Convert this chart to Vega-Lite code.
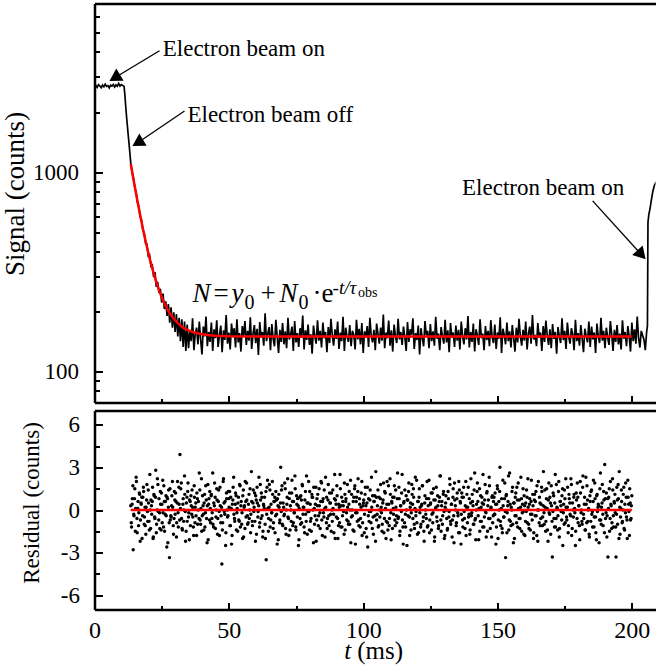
{
"$schema": "https://vega.github.io/schema/vega-lite/v6.json",
"background": "white",
"padding": {"left": 1.5, "top": 3.5, "right": 0, "bottom": 0},
"spacing": 7,
"config": {
  "view": {"stroke": null},
  "font": "Liberation Serif",
  "axis": {"grid": false, "tickColor": "black", "domainColor": "black", "labelColor": "black", "titleColor": "black", "tickWidth": 2, "domainWidth": 2.5, "labelFont": "Liberation Serif", "titleFont": "Liberation Serif", "titleFontWeight": "normal", "labelFlush": false}
},
"vconcat": [
{
  "width": 561, "height": 399,
  "resolve": {"axis": {"x": "independent", "y": "independent"}},
  "encoding": {
    "x": {"field": "t", "type": "quantitative", "scale": {"domain": [0, 208.8], "nice": false, "zero": false}, "axis": null},
    "y": {"field": "s", "type": "quantitative", "scale": {"type": "log", "domain": [70, 7000], "nice": false}, "axis": null}
  },
  "layer": [
    {
      "data": {"values": [
{"t":0,"s":2690},{"t":0.5,"s":2720},{"t":1,"s":2660},{"t":1.5,"s":2745},{"t":2,"s":2700},{"t":2.5,"s":2650},{"t":3,"s":2730},{"t":3.5,"s":2680},{"t":4,"s":2760},{"t":4.5,"s":2690},{"t":5,"s":2715},{"t":5.5,"s":2640},{"t":6,"s":2725},{"t":6.5,"s":2700},{"t":7,"s":2750},{"t":7.5,"s":2670},{"t":8,"s":2735},{"t":8.5,"s":2690},{"t":9,"s":2780},{"t":9.5,"s":2700},{"t":10,"s":2745},{"t":10.5,"s":2720},{"t":11,"s":2690},{"t":11.3,"s":2450},{"t":11.6,"s":2150},{"t":12,"s":1850},{"t":12.5,"s":1560},{"t":13,"s":1320},{"t":13.5,"s":1110},{"t":14,"s":990},{"t":14.5,"s":935},{"t":15,"s":838},{"t":15.5,"s":790},{"t":16,"s":705},{"t":16.5,"s":672},{"t":17,"s":598},{"t":17.5,"s":575},{"t":18,"s":510},{"t":18.5,"s":498},{"t":19,"s":440},{"t":19.5,"s":435},{"t":20,"s":380},{"t":20.5,"s":385},{"t":21,"s":338},{"t":21.5,"s":342},{"t":22,"s":298},{"t":22.5,"s":315},{"t":23,"s":266},{"t":23.5,"s":282},{"t":24,"s":248},{"t":24.5,"s":260},{"t":25,"s":222},{"t":25.5,"s":246},{"t":26,"s":206},{"t":26.5,"s":225},{"t":27,"s":190},{"t":27.5,"s":218},{"t":28,"s":176},{"t":28.5,"s":210},{"t":29,"s":166},{"t":29.5,"s":198},{"t":30,"s":158},{"t":30.5,"s":194},{"t":31,"s":150},{"t":31.5,"s":186},{"t":32,"s":142},{"t":32.5,"s":183},{"t":33,"s":133},{"t":33.5,"s":178},{"t":34,"s":127},
{"t":34.5,"s":172},{"t":35,"s":131},{"t":35.5,"s":160},{"t":36,"s":142},{"t":36.5,"s":185},{"t":37,"s":128},{"t":37.5,"s":155},{"t":38,"s":166},{"t":38.5,"s":137},{"t":39,"s":178},{"t":39.5,"s":145},{"t":40,"s":122},{"t":40.5,"s":168},{"t":41,"s":150},{"t":41.5,"s":189},{"t":42,"s":134},{"t":42.5,"s":158},{"t":43,"s":141},{"t":43.5,"s":176},{"t":44,"s":127},
{"t":44.5,"s":163},{"t":45,"s":147},{"t":45.5,"s":181},{"t":46,"s":133},{"t":46.5,"s":152},{"t":47,"s":170},{"t":47.5,"s":125},{"t":48,"s":161},{"t":48.5,"s":144},{"t":49,"s":192},{"t":49.5,"s":138},{"t":50,"s":157},{"t":50.5,"s":129},{"t":51,"s":174},{"t":51.5,"s":149},{"t":52,"s":165},{"t":52.5,"s":132},{"t":53,"s":183},{"t":53.5,"s":140},{"t":54,"s":156},
{"t":54.5,"s":126},{"t":55,"s":169},{"t":55.5,"s":151},{"t":56,"s":179},{"t":56.5,"s":136},{"t":57,"s":160},{"t":57.5,"s":143},{"t":58,"s":187},{"t":58.5,"s":130},{"t":59,"s":154},{"t":59.5,"s":171},{"t":60,"s":139},{"t":60.5,"s":164},{"t":61,"s":121},{"t":61.5,"s":177},{"t":62,"s":148},{"t":62.5,"s":158},{"t":63,"s":135},{"t":63.5,"s":196},{"t":64,"s":142},
{"t":64.5,"s":155},{"t":65,"s":167},{"t":65.5,"s":128},{"t":66,"s":173},{"t":66.5,"s":146},{"t":67,"s":134},{"t":67.5,"s":182},{"t":68,"s":150},{"t":68.5,"s":124},{"t":69,"s":162},{"t":69.5,"s":141},{"t":70,"s":175},{"t":70.5,"s":137},{"t":71,"s":159},{"t":71.5,"s":131},{"t":72,"s":186},{"t":72.5,"s":145},{"t":73,"s":153},{"t":73.5,"s":168},{"t":74,"s":127},
{"t":74.5,"s":179},{"t":75,"s":140},{"t":75.5,"s":156},{"t":76,"s":133},{"t":76.5,"s":165},{"t":77,"s":148},{"t":77.5,"s":191},{"t":78,"s":129},{"t":78.5,"s":161},{"t":79,"s":144},{"t":79.5,"s":172},{"t":80,"s":136},{"t":80.5,"s":154},{"t":81,"s":123},{"t":81.5,"s":170},{"t":82,"s":150},{"t":82.5,"s":138},{"t":83,"s":181},{"t":83.5,"s":143},{"t":84,"s":160},
{"t":84.5,"s":132},{"t":85,"s":176},{"t":85.5,"s":147},{"t":86,"s":158},{"t":86.5,"s":125},{"t":87,"s":167},{"t":87.5,"s":139},{"t":88,"s":184},{"t":88.5,"s":152},{"t":89,"s":135},{"t":89.5,"s":163},{"t":90,"s":146},{"t":90.5,"s":178},{"t":91,"s":130},{"t":91.5,"s":157},{"t":92,"s":142},{"t":92.5,"s":188},{"t":93,"s":127},{"t":93.5,"s":166},{"t":94,"s":149},
{"t":94.5,"s":141},{"t":95,"s":171},{"t":95.5,"s":134},{"t":96,"s":160},{"t":96.5,"s":153},{"t":97,"s":129},{"t":97.5,"s":182},{"t":98,"s":145},{"t":98.5,"s":164},{"t":99,"s":137},{"t":99.5,"s":175},{"t":100,"s":124},{"t":100.5,"s":159},{"t":101,"s":148},{"t":101.5,"s":169},{"t":102,"s":133},{"t":102.5,"s":186},{"t":103,"s":151},{"t":103.5,"s":140},{"t":104,"s":162},
{"t":104.5,"s":128},{"t":105,"s":174},{"t":105.5,"s":155},{"t":106,"s":138},{"t":106.5,"s":166},{"t":107,"s":143},{"t":107.5,"s":193},{"t":108,"s":131},{"t":108.5,"s":157},{"t":109,"s":147},{"t":109.5,"s":180},{"t":110,"s":135},{"t":110.5,"s":161},{"t":111,"s":126},{"t":111.5,"s":172},{"t":112,"s":150},{"t":112.5,"s":139},{"t":113,"s":184},{"t":113.5,"s":145},{"t":114,"s":158},
{"t":114.5,"s":136},{"t":115,"s":168},{"t":115.5,"s":149},{"t":116,"s":127},{"t":116.5,"s":177},{"t":117,"s":141},{"t":117.5,"s":163},{"t":118,"s":153},{"t":118.5,"s":185},{"t":119,"s":130},{"t":119.5,"s":156},{"t":120,"s":144},{"t":120.5,"s":170},{"t":121,"s":122},{"t":121.5,"s":165},{"t":122,"s":147},{"t":122.5,"s":134},{"t":123,"s":179},{"t":123.5,"s":152},{"t":124,"s":160},
{"t":124.5,"s":131},{"t":125,"s":173},{"t":125.5,"s":142},{"t":126,"s":159},{"t":126.5,"s":135},{"t":127,"s":188},{"t":127.5,"s":146},{"t":128,"s":155},{"t":128.5,"s":128},{"t":129,"s":167},{"t":129.5,"s":150},{"t":130,"s":138},{"t":130.5,"s":182},{"t":131,"s":140},{"t":131.5,"s":161},{"t":132,"s":125},{"t":132.5,"s":175},{"t":133,"s":148},{"t":133.5,"s":157},{"t":134,"s":133},
{"t":134.5,"s":170},{"t":135,"s":143},{"t":135.5,"s":162},{"t":136,"s":129},{"t":136.5,"s":178},{"t":137,"s":151},{"t":137.5,"s":137},{"t":138,"s":165},{"t":138.5,"s":145},{"t":139,"s":190},{"t":139.5,"s":132},{"t":140,"s":158},{"t":140.5,"s":141},{"t":141,"s":174},{"t":141.5,"s":126},{"t":142,"s":163},{"t":142.5,"s":152},{"t":143,"s":136},{"t":143.5,"s":183},{"t":144,"s":147},
{"t":144.5,"s":155},{"t":145,"s":128},{"t":145.5,"s":169},{"t":146,"s":144},{"t":146.5,"s":160},{"t":147,"s":134},{"t":147.5,"s":181},{"t":148,"s":149},{"t":148.5,"s":139},{"t":149,"s":172},{"t":149.5,"s":130},{"t":150,"s":157},{"t":150.5,"s":146},{"t":151,"s":187},{"t":151.5,"s":124},{"t":152,"s":164},{"t":152.5,"s":153},{"t":153,"s":137},{"t":153.5,"s":176},{"t":154,"s":142},
{"t":154.5,"s":159},{"t":155,"s":132},{"t":155.5,"s":171},{"t":156,"s":147},{"t":156.5,"s":126},{"t":157,"s":166},{"t":157.5,"s":140},{"t":158,"s":184},{"t":158.5,"s":150},{"t":159,"s":135},{"t":159.5,"s":162},{"t":160,"s":143},{"t":160.5,"s":178},{"t":161,"s":129},{"t":161.5,"s":155},{"t":162,"s":168},{"t":162.5,"s":138},{"t":163,"s":192},{"t":163.5,"s":145},{"t":164,"s":153},
{"t":164.5,"s":134},{"t":165,"s":175},{"t":165.5,"s":148},{"t":166,"s":157},{"t":166.5,"s":127},{"t":167,"s":169},{"t":167.5,"s":141},{"t":168,"s":180},{"t":168.5,"s":152},{"t":169,"s":136},{"t":169.5,"s":163},{"t":170,"s":131},{"t":170.5,"s":173},{"t":171,"s":146},{"t":171.5,"s":158},{"t":172,"s":123},{"t":172.5,"s":167},{"t":173,"s":150},{"t":173.5,"s":139},{"t":174,"s":185},
{"t":174.5,"s":144},{"t":175,"s":160},{"t":175.5,"s":130},{"t":176,"s":176},{"t":176.5,"s":149},{"t":177,"s":138},{"t":177.5,"s":165},{"t":178,"s":154},{"t":178.5,"s":128},{"t":179,"s":182},{"t":179.5,"s":142},{"t":180,"s":156},{"t":180.5,"s":135},{"t":181,"s":171},{"t":181.5,"s":147},{"t":182,"s":125},{"t":182.5,"s":164},{"t":183,"s":151},{"t":183.5,"s":140},{"t":184,"s":178},
{"t":184.5,"s":133},{"t":185,"s":168},{"t":185.5,"s":145},{"t":186,"s":157},{"t":186.5,"s":124},{"t":187,"s":174},{"t":187.5,"s":150},{"t":188,"s":139},{"t":188.5,"s":186},{"t":189,"s":143},{"t":189.5,"s":160},{"t":190,"s":131},{"t":190.5,"s":166},{"t":191,"s":148},{"t":191.5,"s":136},{"t":192,"s":179},{"t":192.5,"s":153},{"t":193,"s":127},{"t":193.5,"s":162},{"t":194,"s":141},
{"t":194.5,"s":171},{"t":195,"s":137},{"t":195.5,"s":155},{"t":196,"s":129},{"t":196.5,"s":181},{"t":197,"s":146},{"t":197.5,"s":158},{"t":198,"s":134},{"t":198.5,"s":169},{"t":199,"s":150},{"t":199.5,"s":126},{"t":200,"s":176},{"t":200.5,"s":142},{"t":201,"s":163},{"t":201.5,"s":138},{"t":202,"s":189},{"t":202.5,"s":147},{"t":203,"s":132},{"t":203.5,"s":160},{"t":204,"s":152},
{"t":204.5,"s":145},{"t":205,"s":128},{"t":205.5,"s":158},{"t":205.8,"s":170},{"t":206,"s":560},{"t":206.3,"s":610},{"t":206.8,"s":660},{"t":207.3,"s":730},{"t":207.8,"s":800},{"t":208.3,"s":850},{"t":208.8,"s":880},{"t":209.3,"s":900}
      ]},
      "mark": {"type": "line", "color": "black", "strokeWidth": 1.7, "clip": true},
      "encoding": {
        "x": {"field": "t", "type": "quantitative", "scale": {"domain": [0, 208.8], "nice": false, "zero": false},
              "axis": {"orient": "bottom", "values": [0, 50, 100, 150, 200], "tickSize": -7, "labels": false, "title": null, "domain": true}},
        "y": {"field": "s", "type": "quantitative", "scale": {"type": "log", "domain": [70, 7000], "nice": false},
              "axis": {"orient": "left", "values": [100, 1000], "format": "d", "tickSize": -8, "labelPadding": 24, "labelFontSize": 23, "title": "Signal (counts)", "titleFontSize": 27, "titlePadding": 3, "titleY": 190, "domain": true}}
      }
    },
    {
      "data": {"values": [
{"t":13.5,"s":1100},{"t":14,"s":1006},{"t":14.5,"s":921},{"t":15,"s":845},{"t":15.5,"s":776},{"t":16,"s":714},{"t":16.5,"s":659},{"t":17,"s":608},{"t":17.5,"s":563},{"t":18,"s":522},{"t":18.5,"s":485},{"t":19,"s":452},{"t":19.5,"s":422},{"t":20,"s":395},{"t":20.5,"s":371},{"t":21,"s":349},{"t":21.5,"s":330},{"t":22,"s":312},{"t":22.5,"s":296},{"t":23,"s":281},{"t":23.5,"s":268},{"t":24,"s":257},{"t":24.5,"s":246},{"t":25,"s":237},{"t":25.5,"s":228},{"t":26,"s":220},{"t":26.5,"s":213},{"t":27,"s":207},{"t":27.5,"s":201},{"t":28,"s":196},{"t":28.5,"s":192},{"t":29,"s":188},{"t":29.5,"s":184},{"t":30,"s":181},{"t":31,"s":175},{"t":32,"s":170},{"t":33,"s":166},{"t":34,"s":163},{"t":35,"s":161},{"t":36,"s":159},{"t":37,"s":157},{"t":38,"s":156},{"t":40,"s":154},{"t":42,"s":152.5},{"t":45,"s":151.4},{"t":50,"s":150.5},{"t":60,"s":150},{"t":200,"s":150}
      ]},
      "mark": {"type": "line", "color": "#ff0000", "strokeWidth": 2.5},
      "encoding": {
        "x": {"field": "t", "type": "quantitative", "scale": {"domain": [0, 208.8], "nice": false, "zero": false},
              "axis": {"orient": "bottom", "values": [25, 75, 125, 175], "tickSize": -4, "labels": false, "title": null, "domain": false}},
        "y": {"field": "s", "type": "quantitative", "scale": {"type": "log", "domain": [70, 7000], "nice": false},
              "axis": {"orient": "left", "values": [80, 90, 200, 300, 400, 500, 600, 700, 800, 900, 2000, 3000, 4000, 5000, 6000], "tickSize": -5, "labels": false, "title": null, "domain": false}}
      }
    },
    {
      "data": {"values": [
{"t":24.2,"s":4055,"t2":7.52,"s2":2971},{"t":33.5,"s":2025,"t2":16.08,"s2":1402},{"t":185.4,"s":717,"t2":203.6,"s2":385}
      ]},
      "mark": {"type": "rule", "color": "black", "strokeWidth": 1.3},
      "encoding": {
        "x": {"field": "t", "type": "quantitative", "scale": {"domain": [0, 208.8], "nice": false, "zero": false},
              "axis": {"orient": "top", "ticks": false, "labels": false, "title": null, "domain": true}},
        "x2": {"field": "t2"},
        "y2": {"field": "s2"}
      }
    },
    {
      "data": {"values": [{"t":7.52,"s":2971},{"t":16.08,"s":1402}]},
      "mark": {"type": "point", "shape": "triangle-up", "filled": true, "size": 200, "angle": 239, "color": "black", "opacity": 1}
    },
    {
      "data": {"values": [{"t":203.6,"s":385}]},
      "mark": {"type": "point", "shape": "triangle-up", "filled": true, "size": 200, "angle": 138, "color": "black", "opacity": 1}
    },
    {
      "data": {"values": [
{"t":25.4,"s":3841,"txt":"Electron beam on"},{"t":34.6,"s":1790,"txt":"Electron beam off"},{"t":136.8,"s":766,"txt":"Electron beam on"}
      ]},
      "mark": {"type": "text", "align": "left", "baseline": "alphabetic", "fontSize": 23, "font": "Liberation Serif", "color": "black"},
      "encoding": {"text": {"field": "txt"}}
    },
    {
      "data": {"values": [{"t":36.5,"s":222,"txt":"N"},{"t":51.0,"s":222,"txt":"y"},{"t":68.9,"s":222,"txt":"N"}]},
      "mark": {"type": "text", "align": "left", "baseline": "alphabetic", "fontSize": 27, "fontStyle": "italic", "font": "Liberation Serif", "color": "black"},
      "encoding": {"text": {"field": "txt"}}
    },
    {
      "data": {"values": [{"t":44.3,"s":222,"txt":"="},{"t":61.8,"s":222,"txt":"+"},{"t":81.1,"s":222,"txt":"·e"}]},
      "mark": {"type": "text", "align": "left", "baseline": "alphabetic", "fontSize": 27, "font": "Liberation Serif", "color": "black"},
      "encoding": {"text": {"field": "txt"}}
    },
    {
      "data": {"values": [{"t":55.8,"s":207,"txt":"0"},{"t":75.9,"s":207,"txt":"0"}]},
      "mark": {"type": "text", "align": "left", "baseline": "alphabetic", "fontSize": 20, "font": "Liberation Serif", "color": "black"},
      "encoding": {"text": {"field": "txt"}}
    },
    {
      "data": {"values": [{"t":88.6,"s":246,"txt":"-t/τ"}]},
      "mark": {"type": "text", "align": "left", "baseline": "alphabetic", "fontSize": 19, "fontStyle": "italic", "font": "Liberation Serif", "color": "black"},
      "encoding": {"text": {"field": "txt"}}
    },
    {
      "data": {"values": [{"t":98.1,"s":235.6,"txt":"obs"}]},
      "mark": {"type": "text", "align": "left", "baseline": "alphabetic", "fontSize": 14, "font": "Liberation Serif", "color": "black"},
      "encoding": {"text": {"field": "txt"}}
    }
  ]
},
{
  "width": 561, "height": 199,
  "resolve": {"axis": {"x": "independent", "y": "independent"}},
  "encoding": {
    "x": {"field": "t", "type": "quantitative", "scale": {"domain": [0, 208.8], "nice": false, "zero": false}, "axis": null},
    "y": {"field": "r", "type": "quantitative", "scale": {"domain": [-7, 7], "nice": false, "zero": false}, "axis": null}
  },
  "layer": [
    {
      "data": {"values": [
{"t":13.5,"r":0.3},{"t":13.8,"r":-1.2},{"t":14.1,"r":0.8},{"t":14.4,"r":-2.8},{"t":14.7,"r":-0.4},{"t":15,"r":1.5},{"t":15.3,"r":0.1},{"t":15.6,"r":2.0},{"t":15.9,"r":-1.6},{"t":16.2,"r":0.6},
{"t":16.5,"r":-0.2},{"t":16.8,"r":1.1},{"t":17.1,"r":-0.7},{"t":17.4,"r":0.4},{"t":17.7,"r":-2.0},{"t":18,"r":0.9},{"t":18.3,"r":1.3},{"t":18.6,"r":-0.5},{"t":18.9,"r":-1.1},{"t":19.2,"r":0.2},
{"t":19.5,"r":1.8},{"t":19.8,"r":-0.8},{"t":20.1,"r":0.5},{"t":20.4,"r":-1.4},{"t":20.7,"r":0.0},{"t":21,"r":0.7},{"t":21.3,"r":-0.3},{"t":21.6,"r":1.6},{"t":21.9,"r":-1.9},{"t":22.2,"r":1.0},
{"t":22.5,"r":-0.6},{"t":22.8,"r":2.8},{"t":23.1,"r":-1.0},{"t":23.4,"r":2.2},{"t":23.7,"r":-0.1},{"t":24,"r":0.8},{"t":24.3,"r":-1.3},{"t":24.6,"r":0.4},{"t":24.9,"r":1.2},{"t":25.2,"r":-0.9},
{"t":25.5,"r":-0.2},{"t":25.8,"r":1.7},{"t":26.1,"r":-1.5},{"t":26.4,"r":0.6},{"t":26.7,"r":-0.4},{"t":27,"r":0.9},{"t":27.3,"r":-2.3},{"t":27.6,"r":1.4},{"t":27.9,"r":-3.35},{"t":28.2,"r":-0.7},
{"t":28.5,"r":-0.5},{"t":28.8,"r":1.0},{"t":29.1,"r":0.2},{"t":29.4,"r":-1.7},{"t":29.7,"r":1.3},{"t":30,"r":-0.3},{"t":30.3,"r":0.6},{"t":30.6,"r":-0.9},{"t":30.9,"r":2.0},{"t":31.2,"r":-1.2},
{"t":31.5,"r":0.4},{"t":31.8,"r":3.9},{"t":32.1,"r":1.5},{"t":32.4,"r":-0.6},{"t":32.7,"r":-1.4},{"t":33,"r":0.8},{"t":33.3,"r":0.0},{"t":33.6,"r":1.1},{"t":33.9,"r":-2.2},{"t":34.2,"r":0.5},
{"t":34.5,"r":-0.8},{"t":34.8,"r":1.9},{"t":35.1,"r":-0.2},{"t":35.4,"r":0.7},{"t":35.7,"r":-1.1},{"t":36,"r":0.3},{"t":36.3,"r":1.4},{"t":36.6,"r":-0.5},{"t":36.9,"r":-1.8},{"t":37.2,"r":0.9},
{"t":37.5,"r":0.2},{"t":37.8,"r":-0.4},{"t":38.1,"r":1.2},{"t":38.4,"r":-1.0},{"t":38.7,"r":0.6},{"t":39,"r":2.6},{"t":39.3,"r":-0.7},{"t":39.6,"r":0.1},{"t":39.9,"r":-1.5},{"t":40.2,"r":1.0},
{"t":40.5,"r":-0.3},{"t":40.8,"r":0.5},{"t":41.1,"r":-1.2},{"t":41.4,"r":1.7},{"t":41.7,"r":-0.6},{"t":42,"r":0.3},{"t":42.3,"r":-2.1},{"t":42.6,"r":0.8},{"t":42.9,"r":1.3},{"t":43.2,"r":-0.9},
{"t":43.5,"r":1.1},{"t":43.8,"r":-0.2},{"t":44.1,"r":-1.0},{"t":44.4,"r":0.5},{"t":44.7,"r":1.9},{"t":45,"r":-1.3},{"t":45.3,"r":0.0},{"t":45.6,"r":0.7},{"t":45.9,"r":-0.6},{"t":46.2,"r":1.4},
{"t":46.5,"r":-1.8},{"t":46.8,"r":0.3},{"t":47.1,"r":-0.4},{"t":47.4,"r":-3.8},{"t":47.7,"r":-0.9},{"t":48,"r":2.2},{"t":48.3,"r":-0.1},{"t":48.6,"r":0.6},{"t":48.9,"r":-1.6},{"t":49.2,"r":0.8},
{"t":49.5,"r":-0.5},{"t":49.8,"r":1.3},{"t":50.1,"r":0.2},{"t":50.4,"r":-1.1},{"t":50.7,"r":0.9},{"t":51,"r":-2.4},{"t":51.3,"r":0.4},{"t":51.6,"r":1.6},{"t":51.9,"r":-0.3},{"t":52.2,"r":-0.8},
{"t":52.5,"r":1.2},{"t":52.8,"r":-1.4},{"t":53.1,"r":0.1},{"t":53.4,"r":0.5},{"t":53.7,"r":-0.7},{"t":54,"r":1.8},{"t":54.3,"r":-1.2},{"t":54.6,"r":0.6},{"t":54.9,"r":-0.2},{"t":55.2,"r":1.0},
{"t":55.5,"r":-1.9},{"t":55.8,"r":0.3},{"t":56.1,"r":2.0},{"t":56.4,"r":-0.5},{"t":56.7,"r":0.7},{"t":57,"r":-1.0},{"t":57.3,"r":0.4},{"t":57.6,"r":-0.6},{"t":57.9,"r":1.5},{"t":58.2,"r":-0.3},
{"t":58.5,"r":0.6},{"t":58.8,"r":-1.1},{"t":59.1,"r":1.4},{"t":59.4,"r":0.2},{"t":59.7,"r":-0.8},{"t":60,"r":1.0},{"t":60.3,"r":-1.7},{"t":60.6,"r":0.5},{"t":60.9,"r":-0.1},{"t":61.2,"r":2.3},
{"t":61.5,"r":-0.9},{"t":61.8,"r":0.7},{"t":62.1,"r":1.2},{"t":62.4,"r":-0.4},{"t":62.7,"r":-1.5},{"t":63,"r":0.3},{"t":63.3,"r":0.9},{"t":63.6,"r":-2.0},{"t":63.9,"r":-3.5},{"t":64.2,"r":1.6},
{"t":64.5,"r":0.1},{"t":64.8,"r":-0.6},{"t":65.1,"r":1.8},{"t":65.4,"r":-1.2},{"t":65.7,"r":0.4},{"t":66,"r":-0.2},{"t":66.3,"r":1.1},{"t":66.6,"r":-0.9},{"t":66.9,"r":0.6},{"t":67.2,"r":-1.6},
{"t":67.5,"r":1.3},{"t":67.8,"r":-0.3},{"t":68.1,"r":0.8},{"t":68.4,"r":-2.1},{"t":68.7,"r":0.2},{"t":69,"r":-0.7},{"t":69.3,"r":3.0},{"t":69.6,"r":1.4},{"t":69.9,"r":-1.0},{"t":70.2,"r":0.5},
{"t":70.5,"r":-0.4},{"t":70.8,"r":1.9},{"t":71.1,"r":-1.3},{"t":71.4,"r":0.0},{"t":71.7,"r":0.9},{"t":72,"r":-0.5},{"t":72.3,"r":-1.8},{"t":72.6,"r":1.2},{"t":72.9,"r":0.3},{"t":73.2,"r":-0.8},
{"t":73.5,"r":2.1},{"t":73.8,"r":-1.1},{"t":74.1,"r":0.6},{"t":74.4,"r":-0.2},{"t":74.7,"r":1.5},{"t":75,"r":-1.4},{"t":75.3,"r":0.4},{"t":75.6,"r":0.8},{"t":75.9,"r":-2.5},{"t":76.2,"r":0.1},
{"t":76.5,"r":-0.6},{"t":76.8,"r":1.0},{"t":77.1,"r":-0.9},{"t":77.4,"r":1.7},{"t":77.7,"r":0.2},{"t":78,"r":-1.2},{"t":78.3,"r":0.7},{"t":78.6,"r":-0.3},{"t":78.9,"r":2.4},{"t":79.2,"r":-1.7},
{"t":79.5,"r":0.5},{"t":79.8,"r":-0.1},{"t":80.1,"r":1.3},{"t":80.4,"r":-0.8},{"t":80.7,"r":-1.5},{"t":81,"r":0.9},{"t":81.3,"r":0.0},{"t":81.6,"r":1.6},{"t":81.9,"r":-1.0},{"t":82.2,"r":0.4},
{"t":82.5,"r":-2.2},{"t":82.8,"r":0.8},{"t":83.1,"r":1.1},{"t":83.4,"r":-0.4},{"t":83.7,"r":0.3},{"t":84,"r":-1.3},{"t":84.3,"r":2.0},{"t":84.6,"r":-0.7},{"t":84.9,"r":0.6},{"t":85.2,"r":-0.2},
{"t":85.5,"r":1.4},{"t":85.8,"r":-1.9},{"t":86.1,"r":0.2},{"t":86.4,"r":0.9},{"t":86.7,"r":-0.6},{"t":87,"r":1.8},{"t":87.3,"r":-1.1},{"t":87.6,"r":0.5},{"t":87.9,"r":-0.3},{"t":88.2,"r":1.2},
{"t":88.5,"r":-0.8},{"t":88.8,"r":0.1},{"t":89.1,"r":-1.6},{"t":89.4,"r":2.5},{"t":89.7,"r":0.7},{"t":90,"r":-0.5},{"t":90.3,"r":1.0},{"t":90.6,"r":-2.0},{"t":90.9,"r":0.4},{"t":91.2,"r":-0.9},
{"t":91.5,"r":1.5},{"t":91.8,"r":0.3},{"t":92.1,"r":-1.2},{"t":92.4,"r":0.6},{"t":92.7,"r":-0.1},{"t":93,"r":1.9},{"t":93.3,"r":-1.4},{"t":93.6,"r":0.8},{"t":93.9,"r":-0.7},{"t":94.2,"r":0.2},
{"t":94.5,"r":-1.0},{"t":94.8,"r":1.3},{"t":95.1,"r":0.0},{"t":95.4,"r":-2.3},{"t":95.7,"r":1.1},{"t":96,"r":-0.4},{"t":96.3,"r":0.6},{"t":96.6,"r":-1.5},{"t":96.9,"r":1.7},{"t":97.2,"r":-0.2},
{"t":97.5,"r":0.9},{"t":97.8,"r":-0.8},{"t":98.1,"r":2.2},{"t":98.4,"r":-1.1},{"t":98.7,"r":0.4},{"t":99,"r":-0.6},{"t":99.3,"r":1.2},{"t":99.6,"r":-1.8},{"t":99.9,"r":0.3},{"t":100.2,"r":0.7},
{"t":100.5,"r":-0.3},{"t":100.8,"r":1.6},{"t":101.1,"r":-1.3},{"t":101.4,"r":0.5},{"t":101.7,"r":-2.6},{"t":102,"r":0.8},{"t":102.3,"r":-0.1},{"t":102.6,"r":1.4},{"t":102.9,"r":-0.9},{"t":103.2,"r":0.2},
{"t":103.5,"r":1.0},{"t":103.8,"r":-1.7},{"t":104.1,"r":0.6},{"t":104.4,"r":-0.4},{"t":104.7,"r":2.7},{"t":105,"r":-0.7},{"t":105.3,"r":0.3},{"t":105.6,"r":-1.2},{"t":105.9,"r":0.9},{"t":106.2,"r":-0.5},
{"t":106.5,"r":1.8},{"t":106.8,"r":-0.2},{"t":107.1,"r":-1.0},{"t":107.4,"r":0.7},{"t":107.7,"r":-1.6},{"t":108,"r":1.3},{"t":108.3,"r":0.1},{"t":108.6,"r":-0.8},{"t":108.9,"r":2.0},{"t":109.2,"r":-1.4},
{"t":109.5,"r":0.4},{"t":109.8,"r":-0.6},{"t":110.1,"r":1.1},{"t":110.4,"r":-2.1},{"t":110.7,"r":0.5},{"t":111,"r":0.9},{"t":111.3,"r":-0.3},{"t":111.6,"r":1.7},{"t":111.9,"r":-1.1},{"t":112.2,"r":0.2},
{"t":112.5,"r":-0.9},{"t":112.8,"r":2.6},{"t":113.1,"r":-0.5},{"t":113.4,"r":0.8},{"t":113.7,"r":-1.5},{"t":114,"r":0.3},{"t":114.3,"r":1.2},{"t":114.6,"r":-0.7},{"t":114.9,"r":-2.4},{"t":115.2,"r":0.6},
{"t":115.5,"r":1.4},{"t":115.8,"r":-1.2},{"t":116.1,"r":0.0},{"t":116.4,"r":0.7},{"t":116.7,"r":-0.4},{"t":117,"r":1.9},{"t":117.3,"r":-1.8},{"t":117.6,"r":0.5},{"t":117.9,"r":-0.2},{"t":118.2,"r":1.1},
{"t":118.5,"r":-0.6},{"t":118.8,"r":0.9},{"t":119.1,"r":-1.3},{"t":119.4,"r":2.3},{"t":119.7,"r":-0.1},{"t":120,"r":-0.9},{"t":120.3,"r":0.6},{"t":120.6,"r":-1.6},{"t":120.9,"r":1.5},{"t":121.2,"r":0.2},
{"t":121.5,"r":-1.0},{"t":121.8,"r":0.4},{"t":122.1,"r":1.7},{"t":122.4,"r":-0.5},{"t":122.7,"r":-2.2},{"t":123,"r":1.0},{"t":123.3,"r":-0.3},{"t":123.6,"r":0.8},{"t":123.9,"r":-1.2},{"t":124.2,"r":0.3},
{"t":124.5,"r":2.1},{"t":124.8,"r":-0.7},{"t":125.1,"r":0.5},{"t":125.4,"r":-1.4},{"t":125.7,"r":1.2},{"t":126,"r":-0.2},{"t":126.3,"r":0.7},{"t":126.6,"r":-1.9},{"t":126.9,"r":0.1},{"t":127.2,"r":1.6},
{"t":127.5,"r":-0.8},{"t":127.8,"r":0.3},{"t":128.1,"r":-1.1},{"t":128.4,"r":0.9},{"t":128.7,"r":2.4},{"t":129,"r":-1.5},{"t":129.3,"r":0.6},{"t":129.6,"r":-0.4},{"t":129.9,"r":1.3},{"t":130.2,"r":-2.0},
{"t":130.5,"r":0.2},{"t":130.8,"r":1.0},{"t":131.1,"r":-0.6},{"t":131.4,"r":-1.3},{"t":131.7,"r":0.8},{"t":132,"r":-0.1},{"t":132.3,"r":1.8},{"t":132.6,"r":-1.0},{"t":132.9,"r":0.4},{"t":133.2,"r":-0.7},
{"t":133.5,"r":1.5},{"t":133.8,"r":-2.3},{"t":134.1,"r":0.7},{"t":134.4,"r":0.0},{"t":134.7,"r":-0.9},{"t":135,"r":1.2},{"t":135.3,"r":-0.4},{"t":135.6,"r":2.0},{"t":135.9,"r":-1.6},{"t":136.2,"r":0.5},
{"t":136.5,"r":-0.3},{"t":136.8,"r":0.9},{"t":137.1,"r":-1.2},{"t":137.4,"r":1.6},{"t":137.7,"r":-0.6},{"t":138,"r":0.3},{"t":138.3,"r":-1.8},{"t":138.6,"r":1.1},{"t":138.9,"r":0.2},{"t":139.2,"r":-0.5},
{"t":139.5,"r":0.8},{"t":139.8,"r":-1.4},{"t":140.1,"r":2.2},{"t":140.4,"r":-0.2},{"t":140.7,"r":0.6},{"t":141,"r":-1.0},{"t":141.3,"r":1.4},{"t":141.6,"r":-0.7},{"t":141.9,"r":-2.1},{"t":142.2,"r":0.4},
{"t":142.5,"r":1.9},{"t":142.8,"r":-0.4},{"t":143.1,"r":0.1},{"t":143.4,"r":-1.5},{"t":143.7,"r":1.0},{"t":144,"r":-0.8},{"t":144.3,"r":0.5},{"t":144.6,"r":2.5},{"t":144.9,"r":-1.2},{"t":145.2,"r":0.7},
{"t":145.5,"r":-0.1},{"t":145.8,"r":-1.9},{"t":146.1,"r":1.3},{"t":146.4,"r":0.3},{"t":146.7,"r":-0.6},{"t":147,"r":1.7},{"t":147.3,"r":-1.3},{"t":147.6,"r":0.2},{"t":147.9,"r":0.9},{"t":148.2,"r":-0.9},
{"t":148.5,"r":0.6},{"t":148.8,"r":-0.3},{"t":149.1,"r":1.2},{"t":149.4,"r":-2.4},{"t":149.7,"r":0.4},{"t":150,"r":1.5},{"t":150.3,"r":-0.7},{"t":150.6,"r":0.0},{"t":150.9,"r":3.0},{"t":151.2,"r":-1.1},
{"t":151.5,"r":0.8},{"t":151.8,"r":-1.6},{"t":152.1,"r":0.3},{"t":152.4,"r":-0.5},{"t":152.7,"r":1.9},{"t":153,"r":-3.35},{"t":153.3,"r":1.1},{"t":153.6,"r":-0.2},{"t":153.9,"r":0.6},{"t":154.2,"r":-1.4},
{"t":154.5,"r":2.6},{"t":154.8,"r":-0.8},{"t":155.1,"r":0.2},{"t":155.4,"r":1.3},{"t":155.7,"r":-1.0},{"t":156,"r":0.5},{"t":156.3,"r":-2.0},{"t":156.6,"r":0.9},{"t":156.9,"r":-0.4},{"t":157.2,"r":1.6},
{"t":157.5,"r":-1.2},{"t":157.8,"r":0.1},{"t":158.1,"r":0.7},{"t":158.4,"r":-0.6},{"t":158.7,"r":2.3},{"t":159,"r":-1.5},{"t":159.3,"r":0.4},{"t":159.6,"r":-0.1},{"t":159.9,"r":1.0},{"t":160.2,"r":-1.8},
{"t":160.5,"r":0.5},{"t":160.8,"r":1.4},{"t":161.1,"r":-0.9},{"t":161.4,"r":0.2},{"t":161.7,"r":-1.3},{"t":162,"r":0.8},{"t":162.3,"r":-0.3},{"t":162.6,"r":2.1},{"t":162.9,"r":-0.7},{"t":163.2,"r":0.3},
{"t":163.5,"r":-1.6},{"t":163.8,"r":1.1},{"t":164.1,"r":0.6},{"t":164.4,"r":-0.4},{"t":164.7,"r":1.7},{"t":165,"r":-2.2},{"t":165.3,"r":0.0},{"t":165.6,"r":0.9},{"t":165.9,"r":-1.1},{"t":166.2,"r":0.4},
{"t":166.5,"r":1.3},{"t":166.8,"r":-0.5},{"t":167.1,"r":2.7},{"t":167.4,"r":-1.0},{"t":167.7,"r":0.2},{"t":168,"r":-0.8},{"t":168.3,"r":1.5},{"t":168.6,"r":-1.4},{"t":168.9,"r":0.7},{"t":169.2,"r":-0.2},
{"t":169.5,"r":0.9},{"t":169.8,"r":-1.7},{"t":170.1,"r":0.3},{"t":170.4,"r":-3.3},{"t":170.7,"r":1.2},{"t":171,"r":-0.6},{"t":171.3,"r":0.5},{"t":171.6,"r":-1.2},{"t":171.9,"r":1.8},{"t":172.2,"r":0.1},
{"t":172.5,"r":-0.4},{"t":172.8,"r":2.0},{"t":173.1,"r":-1.3},{"t":173.4,"r":0.6},{"t":173.7,"r":-0.1},{"t":174,"r":1.0},{"t":174.3,"r":-2.5},{"t":174.6,"r":0.4},{"t":174.9,"r":1.4},{"t":175.2,"r":-0.9},
{"t":175.5,"r":0.2},{"t":175.8,"r":-0.7},{"t":176.1,"r":1.6},{"t":176.4,"r":-1.1},{"t":176.7,"r":0.8},{"t":177,"r":-0.3},{"t":177.3,"r":2.2},{"t":177.6,"r":-1.8},{"t":177.9,"r":0.5},{"t":178.2,"r":-0.5},
{"t":178.5,"r":1.1},{"t":178.8,"r":-0.2},{"t":179.1,"r":-1.5},{"t":179.4,"r":0.7},{"t":179.7,"r":1.9},{"t":180,"r":-0.9},{"t":180.3,"r":0.3},{"t":180.6,"r":-2.1},{"t":180.9,"r":1.2},{"t":181.2,"r":0.0},
{"t":181.5,"r":-1.0},{"t":181.8,"r":2.4},{"t":182.1,"r":-0.6},{"t":182.4,"r":0.9},{"t":182.7,"r":-1.4},{"t":183,"r":0.4},{"t":183.3,"r":1.7},{"t":183.6,"r":-0.8},{"t":183.9,"r":0.1},{"t":184.2,"r":-1.9},
{"t":184.5,"r":0.6},{"t":184.8,"r":1.3},{"t":185.1,"r":-0.3},{"t":185.4,"r":-1.2},{"t":185.7,"r":2.1},{"t":186,"r":-0.5},{"t":186.3,"r":0.8},{"t":186.6,"r":-1.6},{"t":186.9,"r":1.0},{"t":187.2,"r":-0.1},
{"t":187.5,"r":0.4},{"t":187.8,"r":-2.3},{"t":188.1,"r":1.5},{"t":188.4,"r":-0.7},{"t":188.7,"r":0.2},{"t":189,"r":1.8},{"t":189.3,"r":-1.1},{"t":189.6,"r":0.7},{"t":189.9,"r":3.2},{"t":190.2,"r":-0.6},
{"t":190.5,"r":1.2},{"t":190.8,"r":-0.4},{"t":191.1,"r":-3.3},{"t":191.4,"r":0.9},{"t":191.7,"r":-1.5},{"t":192,"r":2.0},{"t":192.3,"r":0.3},{"t":192.6,"r":-0.9},{"t":192.9,"r":1.4},{"t":193.2,"r":-1.2},
{"t":193.5,"r":0.5},{"t":193.8,"r":-0.2},{"t":194.1,"r":-3.3},{"t":194.4,"r":1.6},{"t":194.7,"r":-1.0},{"t":195,"r":0.8},{"t":195.3,"r":2.7},{"t":195.6,"r":-1.7},{"t":195.9,"r":0.1},{"t":196.2,"r":0.6},
{"t":196.5,"r":-0.8},{"t":196.8,"r":1.1},{"t":197.1,"r":-1.3},{"t":197.4,"r":0.4},{"t":197.7,"r":1.9},{"t":198,"r":-0.5},{"t":198.3,"r":-2.0},{"t":198.6,"r":0.9},{"t":198.9,"r":-0.1},{"t":199.2,"r":1.5},
{"t":199.5,"r":-0.7},{"t":199.8,"r":0.3},
{"t":13.7,"r":-0.9},{"t":14,"r":0.4},{"t":14.3,"r":1.7},{"t":14.6,"r":-0.3},{"t":14.9,"r":0.8},{"t":15.2,"r":-1.5},{"t":15.5,"r":2.3},{"t":15.8,"r":-0.6},{"t":16.1,"r":0.1},{"t":16.4,"r":-1.1},
{"t":16.7,"r":1.2},{"t":17,"r":-2.2},{"t":17.3,"r":0.5},{"t":17.6,"r":0.9},{"t":17.9,"r":-0.4},{"t":18.2,"r":1.6},{"t":18.5,"r":-1.0},{"t":18.8,"r":0.2},{"t":19.1,"r":-1.7},{"t":19.4,"r":0.7},
{"t":19.7,"r":-0.1},{"t":20,"r":1.4},{"t":20.3,"r":-0.8},{"t":20.6,"r":2.5},{"t":20.9,"r":-1.3},{"t":21.2,"r":0.3},{"t":21.5,"r":0.6},{"t":21.8,"r":-2.0},{"t":22.1,"r":1.1},{"t":22.4,"r":-0.5},
{"t":22.7,"r":0.9},{"t":23,"r":-1.6},{"t":23.3,"r":0.0},{"t":23.6,"r":1.8},{"t":23.9,"r":-0.7},{"t":24.2,"r":-0.2},{"t":24.5,"r":1.3},{"t":24.8,"r":-1.4},{"t":25.1,"r":0.4},{"t":25.4,"r":2.1},
{"t":25.7,"r":-1.2},{"t":26,"r":0.6},{"t":26.3,"r":-0.3},{"t":26.6,"r":1.0},{"t":26.9,"r":-2.6},{"t":27.2,"r":0.8},{"t":27.5,"r":0.2},{"t":27.8,"r":-0.9},{"t":28.1,"r":1.5},{"t":28.4,"r":-0.4},
{"t":28.7,"r":0.3},{"t":29,"r":2.0},{"t":29.3,"r":-1.1},{"t":29.6,"r":-0.6},{"t":29.9,"r":0.7},{"t":30.2,"r":1.2},{"t":30.5,"r":-1.9},{"t":30.8,"r":0.5},{"t":31.1,"r":-0.2},{"t":31.4,"r":1.6},
{"t":31.7,"r":-0.7},{"t":32,"r":0.1},{"t":32.3,"r":1.9},{"t":32.6,"r":-1.3},{"t":32.9,"r":0.4},{"t":33.2,"r":-0.8},{"t":33.5,"r":2.4},{"t":33.8,"r":-0.1},{"t":34.1,"r":-1.5},{"t":34.4,"r":0.9},
{"t":34.7,"r":1.3},{"t":35,"r":-0.5},{"t":35.3,"r":-2.1},{"t":35.6,"r":0.6},{"t":35.9,"r":1.0},{"t":36.2,"r":-0.3},{"t":36.5,"r":0.2},{"t":36.8,"r":-1.2},{"t":37.1,"r":1.7},{"t":37.4,"r":-0.9},
{"t":37.7,"r":0.5},{"t":38,"r":-1.8},{"t":38.3,"r":0.8},{"t":38.6,"r":0.0},{"t":38.9,"r":-0.6},{"t":39.2,"r":1.4},{"t":39.5,"r":-1.0},{"t":39.8,"r":2.2},{"t":40.1,"r":-0.4},{"t":40.4,"r":0.3},
{"t":40.7,"r":-1.4},{"t":41,"r":1.1},{"t":41.3,"r":-0.2},{"t":41.6,"r":0.7},{"t":41.9,"r":-2.3},{"t":42.2,"r":1.8},{"t":42.5,"r":0.4},{"t":42.8,"r":-0.7},{"t":43.1,"r":0.1},{"t":43.4,"r":1.0},
{"t":43.7,"r":-0.6},{"t":44,"r":2.6},{"t":44.3,"r":-1.2},{"t":44.6,"r":0.3},{"t":44.9,"r":0.9},{"t":45.2,"r":-0.5},{"t":45.5,"r":1.5},{"t":45.8,"r":-1.7},{"t":46.1,"r":0.6},{"t":46.4,"r":-0.1},
{"t":46.7,"r":1.6},{"t":47,"r":-0.9},{"t":47.3,"r":0.2},{"t":47.6,"r":-1.4},{"t":47.9,"r":2.0},{"t":48.2,"r":0.5},{"t":48.5,"r":-0.3},{"t":48.8,"r":-2.5},{"t":49.1,"r":1.2},{"t":49.4,"r":0.0},
{"t":49.7,"r":-0.4},{"t":50,"r":0.8},{"t":50.3,"r":1.3},{"t":50.6,"r":-1.1},{"t":50.9,"r":0.1},{"t":51.2,"r":-1.8},{"t":51.5,"r":0.7},{"t":51.8,"r":2.3},{"t":52.1,"r":-0.6},{"t":52.4,"r":0.4},
{"t":52.7,"r":1.0},{"t":53,"r":-0.2},{"t":53.3,"r":-1.5},{"t":53.6,"r":0.9},{"t":53.9,"r":-0.8},{"t":54.2,"r":1.7},{"t":54.5,"r":0.3},{"t":54.8,"r":-1.0},{"t":55.1,"r":-2.0},{"t":55.4,"r":1.4},
{"t":55.7,"r":0.2},{"t":56,"r":-1.3},{"t":56.3,"r":0.6},{"t":56.6,"r":1.9},{"t":56.9,"r":-0.4},{"t":57.2,"r":-0.9},{"t":57.5,"r":1.1},{"t":57.8,"r":0.0},{"t":58.1,"r":-1.6},{"t":58.4,"r":2.7},
{"t":58.7,"r":-0.8},{"t":59,"r":0.5},{"t":59.3,"r":-0.1},{"t":59.6,"r":1.2},{"t":59.9,"r":-2.2},{"t":60.2,"r":0.7},{"t":60.5,"r":1.6},{"t":60.8,"r":-0.5},{"t":61.1,"r":0.3},{"t":61.4,"r":-1.2},
{"t":61.7,"r":1.8},{"t":62,"r":-0.6},{"t":62.3,"r":0.9},{"t":62.6,"r":-1.9},{"t":62.9,"r":0.4},{"t":63.2,"r":0.1},{"t":63.5,"r":-1.0},{"t":63.8,"r":1.3},{"t":64.1,"r":-0.3},{"t":64.4,"r":2.1},
{"t":64.7,"r":-1.5},{"t":65,"r":0.2},{"t":65.3,"r":1.4},{"t":65.6,"r":-0.7},{"t":65.9,"r":-0.2},{"t":66.2,"r":2.0},{"t":66.5,"r":-1.3},{"t":66.8,"r":0.6},{"t":67.1,"r":0.9},{"t":67.4,"r":-0.4},
{"t":67.7,"r":0.7},{"t":68,"r":-2.4},{"t":68.3,"r":0.3},{"t":68.6,"r":1.1},{"t":68.9,"r":-0.9},{"t":69.2,"r":0.5},{"t":69.5,"r":-0.1},{"t":69.8,"r":1.7},{"t":70.1,"r":-1.1},{"t":70.4,"r":0.2},
{"t":70.7,"r":-0.3},{"t":71,"r":1.5},{"t":71.3,"r":-1.7},{"t":71.6,"r":0.4},{"t":71.9,"r":2.2},{"t":72.2,"r":-0.6},{"t":72.5,"r":0.8},{"t":72.8,"r":-1.4},{"t":73.1,"r":0.0},{"t":73.4,"r":1.2},
{"t":73.7,"r":0.6},{"t":74,"r":-0.9},{"t":74.3,"r":-0.2},{"t":74.6,"r":2.4},{"t":74.9,"r":-1.2},{"t":75.2,"r":1.0},{"t":75.5,"r":-0.5},{"t":75.8,"r":0.3},{"t":76.1,"r":-2.1},{"t":76.4,"r":0.9},
{"t":76.7,"r":-1.0},{"t":77,"r":0.7},{"t":77.3,"r":1.8},{"t":77.6,"r":-0.3},{"t":77.9,"r":0.2},{"t":78.2,"r":-1.6},{"t":78.5,"r":1.3},{"t":78.8,"r":-0.8},{"t":79.1,"r":0.5},{"t":79.4,"r":-0.1},
{"t":79.7,"r":2.0},{"t":80,"r":-1.4},{"t":80.3,"r":0.4},{"t":80.6,"r":-0.6},{"t":80.9,"r":1.1},{"t":81.2,"r":0.9},{"t":81.5,"r":-2.3},{"t":81.8,"r":0.1},{"t":82.1,"r":-0.4},{"t":82.4,"r":1.6},
{"t":82.7,"r":-0.7},{"t":83,"r":0.3},{"t":83.3,"r":-1.1},{"t":83.6,"r":1.5},{"t":83.9,"r":-0.2},{"t":84.2,"r":0.6},{"t":84.5,"r":1.9},{"t":84.8,"r":-1.8},{"t":85.1,"r":0.8},{"t":85.4,"r":-0.5},
{"t":85.7,"r":0.1},{"t":86,"r":2.3},{"t":86.3,"r":-0.9},{"t":86.6,"r":-1.3},{"t":86.9,"r":0.7},{"t":87.2,"r":-0.4},{"t":87.5,"r":1.2},{"t":87.8,"r":0.5},{"t":88.1,"r":-1.5},{"t":88.4,"r":0.0},
{"t":88.7,"r":1.4},{"t":89,"r":-0.3},{"t":89.3,"r":0.8},{"t":89.6,"r":-2.0},{"t":89.9,"r":0.4},{"t":90.2,"r":1.7},{"t":90.5,"r":-0.6},{"t":90.8,"r":-1.1},{"t":91.1,"r":0.2},{"t":91.4,"r":2.5},
{"t":91.7,"r":-1.2},{"t":92,"r":0.9},{"t":92.3,"r":-0.4},{"t":92.6,"r":0.3},{"t":92.9,"r":-1.7},{"t":93.2,"r":1.1},{"t":93.5,"r":0.6},{"t":93.8,"r":-0.2},{"t":94.1,"r":1.8},{"t":94.4,"r":-0.8},
{"t":94.7,"r":0.4},{"t":95,"r":-1.0},{"t":95.3,"r":2.1},{"t":95.6,"r":-0.5},{"t":95.9,"r":0.0},{"t":96.2,"r":-1.4},{"t":96.5,"r":0.9},{"t":96.8,"r":1.5},{"t":97.1,"r":-2.4},{"t":97.4,"r":0.6},
{"t":97.7,"r":-0.2},{"t":98,"r":1.3},{"t":98.3,"r":-0.7},{"t":98.6,"r":0.8},{"t":98.9,"r":-1.2},{"t":99.2,"r":0.2},{"t":99.5,"r":2.0},{"t":99.8,"r":-0.9},{"t":100.1,"r":0.5},{"t":100.4,"r":-1.6},
{"t":100.7,"r":1.1},{"t":101,"r":0.3},{"t":101.3,"r":-1.9},{"t":101.6,"r":1.6},{"t":101.9,"r":-0.4},{"t":102.2,"r":-0.8},{"t":102.5,"r":0.7},{"t":102.8,"r":-0.1},{"t":103.1,"r":2.3},{"t":103.4,"r":-1.3},
{"t":103.7,"r":-0.5},{"t":104,"r":0.6},{"t":104.3,"r":1.0},{"t":104.6,"r":-2.2},{"t":104.9,"r":0.9},{"t":105.2,"r":-0.3},{"t":105.5,"r":1.4},{"t":105.8,"r":-1.1},{"t":106.1,"r":0.0},{"t":106.4,"r":0.8},
{"t":106.7,"r":0.2},{"t":107,"r":-1.5},{"t":107.3,"r":0.5},{"t":107.6,"r":1.9},{"t":107.9,"r":-0.6},{"t":108.2,"r":1.2},{"t":108.5,"r":-2.0},{"t":108.8,"r":0.4},{"t":109.1,"r":-0.9},{"t":109.4,"r":1.7},
{"t":109.7,"r":-1.1},{"t":110,"r":2.2},{"t":110.3,"r":-0.2},{"t":110.6,"r":0.6},{"t":110.9,"r":-1.3},{"t":111.2,"r":0.1},{"t":111.5,"r":0.9},{"t":111.8,"r":-0.7},{"t":112.1,"r":1.4},{"t":112.4,"r":-0.4},
{"t":112.7,"r":0.8},{"t":113,"r":-0.6},{"t":113.3,"r":1.6},{"t":113.6,"r":-1.8},{"t":113.9,"r":0.3},{"t":114.2,"r":-0.1},{"t":114.5,"r":2.5},{"t":114.8,"r":-1.2},{"t":115.1,"r":0.5},{"t":115.4,"r":-0.9},
{"t":115.7,"r":-0.3},{"t":116,"r":1.0},{"t":116.3,"r":-2.5},{"t":116.6,"r":0.7},{"t":116.9,"r":1.3},{"t":117.2,"r":-0.5},{"t":117.5,"r":0.2},{"t":117.8,"r":-1.4},{"t":118.1,"r":1.8},{"t":118.4,"r":0.4},
{"t":118.7,"r":1.5},{"t":119,"r":-1.0},{"t":119.3,"r":0.1},{"t":119.6,"r":-0.4},{"t":119.9,"r":2.1},{"t":120.2,"r":-1.7},{"t":120.5,"r":0.6},{"t":120.8,"r":0.9},{"t":121.1,"r":-0.2},{"t":121.4,"r":-1.2},
{"t":121.7,"r":0.3},{"t":122,"r":1.7},{"t":122.3,"r":-0.8},{"t":122.6,"r":-1.5},{"t":122.9,"r":0.5},{"t":123.2,"r":0.0},{"t":123.5,"r":-0.6},{"t":123.8,"r":2.0},{"t":124.1,"r":-1.1},{"t":124.4,"r":0.8},
{"t":124.7,"r":-1.6},{"t":125,"r":0.4},{"t":125.3,"r":1.2},{"t":125.6,"r":-0.3},{"t":125.9,"r":-0.9},{"t":126.2,"r":1.5},{"t":126.5,"r":-2.2},{"t":126.8,"r":0.7},{"t":127.1,"r":0.2},{"t":127.4,"r":-0.5},
{"t":127.7,"r":1.0},{"t":128,"r":-1.3},{"t":128.3,"r":0.6},{"t":128.6,"r":2.4},{"t":128.9,"r":-0.7},{"t":129.2,"r":0.3},{"t":129.5,"r":-1.0},{"t":129.8,"r":1.1},{"t":130.1,"r":-0.1},{"t":130.4,"r":-1.8},
{"t":130.7,"r":0.5},{"t":131,"r":0.0},{"t":131.3,"r":-1.4},{"t":131.6,"r":1.3},{"t":131.9,"r":-0.5},{"t":132.2,"r":2.2},{"t":132.5,"r":-0.8},{"t":132.8,"r":0.4},{"t":133.1,"r":-1.9},{"t":133.4,"r":0.9},
{"t":133.7,"r":-0.4},{"t":134,"r":1.9},{"t":134.3,"r":0.3},{"t":134.6,"r":-1.1},{"t":134.9,"r":0.8},{"t":135.2,"r":-0.2},{"t":135.5,"r":-1.6},{"t":135.8,"r":1.4},{"t":136.1,"r":0.6},{"t":136.4,"r":-2.4},
{"t":136.7,"r":1.2},{"t":137,"r":-0.7},{"t":137.3,"r":0.9},{"t":137.6,"r":-0.1},{"t":137.9,"r":-1.3},{"t":138.2,"r":2.0},{"t":138.5,"r":0.2},{"t":138.8,"r":-0.9},{"t":139.1,"r":1.6},{"t":139.4,"r":-0.3},
{"t":139.7,"r":-1.7},{"t":140,"r":0.5},{"t":140.3,"r":-0.4},{"t":140.6,"r":1.1},{"t":140.9,"r":0.3},{"t":141.2,"r":-1.0},{"t":141.5,"r":2.6},{"t":141.8,"r":-0.6},{"t":142.1,"r":0.0},{"t":142.4,"r":1.3},
{"t":142.7,"r":0.6},{"t":143,"r":-2.1},{"t":143.3,"r":1.5},{"t":143.6,"r":-0.8},{"t":143.9,"r":0.2},{"t":144.2,"r":0.9},{"t":144.5,"r":-1.2},{"t":144.8,"r":0.4},{"t":145.1,"r":-0.5},{"t":145.4,"r":1.8},
{"t":145.7,"r":-0.2},{"t":146,"r":1.2},{"t":146.3,"r":-1.5},{"t":146.6,"r":0.7},{"t":146.9,"r":2.3},{"t":147.2,"r":-0.6},{"t":147.5,"r":0.1},{"t":147.8,"r":-1.9},{"t":148.1,"r":1.0},{"t":148.4,"r":-0.4},
{"t":148.7,"r":0.9},{"t":149,"r":-0.3},{"t":149.3,"r":0.4},{"t":149.6,"r":-1.2},{"t":149.9,"r":1.7},{"t":150.2,"r":-2.0},{"t":150.5,"r":0.6},{"t":150.8,"r":1.3},{"t":151.1,"r":-0.8},{"t":151.4,"r":0.1},
{"t":151.7,"r":-1.3},{"t":152,"r":2.1},{"t":152.3,"r":-0.5},{"t":152.6,"r":0.8},{"t":152.9,"r":-0.1},{"t":153.2,"r":1.0},{"t":153.5,"r":-1.6},{"t":153.8,"r":0.3},{"t":154.1,"r":2.4},{"t":154.4,"r":-0.7},
{"t":154.7,"r":0.4},{"t":155,"r":-1.1},{"t":155.3,"r":0.0},{"t":155.6,"r":1.6},{"t":155.9,"r":-2.3},{"t":156.2,"r":0.5},{"t":156.5,"r":-0.4},{"t":156.8,"r":1.2},{"t":157.1,"r":-0.9},{"t":157.4,"r":0.7},
{"t":157.7,"r":1.9},{"t":158,"r":-0.6},{"t":158.3,"r":-1.3},{"t":158.6,"r":0.2},{"t":158.9,"r":0.8},{"t":159.2,"r":-0.2},{"t":159.5,"r":1.5},{"t":159.8,"r":-1.7},{"t":160.1,"r":0.3},{"t":160.4,"r":-0.8},
{"t":160.7,"r":-0.1},{"t":161,"r":0.9},{"t":161.3,"r":2.2},{"t":161.6,"r":-1.0},{"t":161.9,"r":0.4},{"t":162.2,"r":-1.4},{"t":162.5,"r":0.6},{"t":162.8,"r":-0.3},{"t":163.1,"r":1.1},{"t":163.4,"r":-2.0},
{"t":163.7,"r":0.7},{"t":164,"r":-0.4},{"t":164.3,"r":1.3},{"t":164.6,"r":-1.8},{"t":164.9,"r":0.0},{"t":165.2,"r":2.0},{"t":165.5,"r":-0.9},{"t":165.8,"r":0.5},{"t":166.1,"r":-0.6},{"t":166.4,"r":1.6},
{"t":166.7,"r":-1.1},{"t":167,"r":0.3},{"t":167.3,"r":-0.2},{"t":167.6,"r":1.4},{"t":167.9,"r":-1.5},{"t":168.2,"r":0.8},{"t":168.5,"r":0.1},{"t":168.8,"r":-2.2},{"t":169.1,"r":1.9},{"t":169.4,"r":-0.3},
{"t":169.7,"r":0.5},{"t":170,"r":1.7},{"t":170.3,"r":-0.8},{"t":170.6,"r":-0.1},{"t":170.9,"r":1.0},{"t":171.2,"r":-1.2},{"t":171.5,"r":2.5},{"t":171.8,"r":-0.6},{"t":172.1,"r":0.2},{"t":172.4,"r":-1.4},
{"t":172.7,"r":1.3},{"t":173,"r":-1.9},{"t":173.3,"r":0.6},{"t":173.6,"r":0.3},{"t":173.9,"r":-0.7},{"t":174.2,"r":1.5},{"t":174.5,"r":-0.2},{"t":174.8,"r":-1.0},{"t":175.1,"r":0.8},{"t":175.4,"r":2.2},
{"t":175.7,"r":-0.5},{"t":176,"r":0.2},{"t":176.3,"r":-1.6},{"t":176.6,"r":1.1},{"t":176.9,"r":0.5},{"t":177.2,"r":-0.4},{"t":177.5,"r":1.8},{"t":177.8,"r":-1.3},{"t":178.1,"r":0.0},{"t":178.4,"r":0.9},
{"t":178.7,"r":0.1},{"t":179,"r":-2.5},{"t":179.3,"r":1.2},{"t":179.6,"r":-0.6},{"t":179.9,"r":0.9},{"t":180.2,"r":0.3},{"t":180.5,"r":-1.1},{"t":180.8,"r":2.0},{"t":181.1,"r":-0.2},{"t":181.4,"r":-0.8},
{"t":181.7,"r":1.6},{"t":182,"r":-0.3},{"t":182.3,"r":0.4},{"t":182.6,"r":-1.4},{"t":182.9,"r":2.3},{"t":183.2,"r":-0.9},{"t":183.5,"r":0.7},{"t":183.8,"r":0.0},{"t":184.1,"r":-1.7},{"t":184.4,"r":1.0},
{"t":184.7,"r":-0.8},{"t":185,"r":1.4},{"t":185.3,"r":-0.1},{"t":185.6,"r":0.6},{"t":185.9,"r":-1.2},{"t":186.2,"r":1.9},{"t":186.5,"r":-0.5},{"t":186.8,"r":-2.1},{"t":187.1,"r":1.1},{"t":187.4,"r":0.2},
{"t":187.7,"r":0.3},{"t":188,"r":-0.7},{"t":188.3,"r":2.6},{"t":188.6,"r":-1.0},{"t":188.9,"r":0.5},{"t":189.2,"r":-0.3},{"t":189.5,"r":1.3},{"t":189.8,"r":-1.6},{"t":190.1,"r":0.8},{"t":190.4,"r":-0.2},
{"t":190.7,"r":-1.9},{"t":191,"r":0.8},{"t":191.3,"r":0.1},{"t":191.6,"r":1.5},{"t":191.9,"r":-0.6},{"t":192.2,"r":0.4},{"t":192.5,"r":-1.3},{"t":192.8,"r":2.2},{"t":193.1,"r":-0.4},{"t":193.4,"r":0.6},
{"t":193.7,"r":1.1},{"t":194,"r":-1.2},{"t":194.3,"r":-0.3},{"t":194.6,"r":0.7},{"t":194.9,"r":1.8},{"t":195.2,"r":-2.0},{"t":195.5,"r":0.2},{"t":195.8,"r":-0.5},{"t":196.1,"r":1.4},{"t":196.4,"r":-0.9},
{"t":196.7,"r":0.0},{"t":197,"r":1.6},{"t":197.3,"r":-1.4},{"t":197.6,"r":-0.2},{"t":197.9,"r":0.9},{"t":198.2,"r":-0.7},{"t":198.5,"r":2.1},{"t":198.8,"r":0.4},{"t":199.1,"r":-1.8},{"t":199.4,"r":0.5},
{"t":199.7,"r":-0.6},{"t":200,"r":1.0}
      ]},
      "mark": {"type": "circle", "color": "black", "size": 12, "opacity": 1},
      "encoding": {
        "x": {"field": "t", "type": "quantitative", "scale": {"domain": [0, 208.8], "nice": false, "zero": false},
              "axis": {"orient": "bottom", "values": [0, 50, 100, 150, 200], "tickSize": -7, "labelPadding": 16, "labelFontSize": 24, "title": null, "domain": true}},
        "y": {"field": "r", "type": "quantitative", "scale": {"domain": [-7, 7], "nice": false, "zero": false},
              "axis": {"orient": "left", "values": [-6, -3, 0, 3, 6], "labelExpr": "datum.value < 0 ? '-' + (-datum.value) : '' + datum.value", "tickSize": -8, "labelPadding": 23, "labelFontSize": 23, "title": "Residual (counts)", "titleFontSize": 23, "titlePadding": 17, "titleY": 92, "domain": true}}
      }
    },
    {
      "data": {"values": [{"t":13.5,"r":0},{"t":200,"r":0}]},
      "mark": {"type": "line", "color": "#ff0000", "strokeWidth": 2.5},
      "encoding": {
        "x": {"field": "t", "type": "quantitative", "scale": {"domain": [0, 208.8], "nice": false, "zero": false},
              "axis": {"orient": "bottom", "values": [25, 75, 125, 175], "tickSize": -4, "labels": false, "title": null, "domain": false}},
        "y": {"field": "r", "type": "quantitative", "scale": {"domain": [-7, 7], "nice": false, "zero": false},
              "axis": {"orient": "left", "values": [-4.5, -1.5, 1.5, 4.5], "tickSize": -5, "labels": false, "title": null, "domain": false}}
      }
    },
    {
      "data": {"values": [{"t":93.0,"r":-10.45,"txt":"t"}]},
      "mark": {"type": "text", "align": "left", "baseline": "alphabetic", "fontSize": 25, "fontStyle": "italic", "font": "Liberation Serif", "color": "black"},
      "encoding": {
        "x": {"field": "t", "type": "quantitative", "scale": {"domain": [0, 208.8], "nice": false, "zero": false},
              "axis": {"orient": "top", "ticks": false, "labels": false, "title": null, "domain": true}},
        "text": {"field": "txt"}
      }
    },
    {
      "data": {"values": [{"t":97.8,"r":-10.45,"txt":"(ms)"}]},
      "mark": {"type": "text", "align": "left", "baseline": "alphabetic", "fontSize": 25, "font": "Liberation Serif", "color": "black"},
      "encoding": {"text": {"field": "txt"}}
    }
  ]
}
]
}
